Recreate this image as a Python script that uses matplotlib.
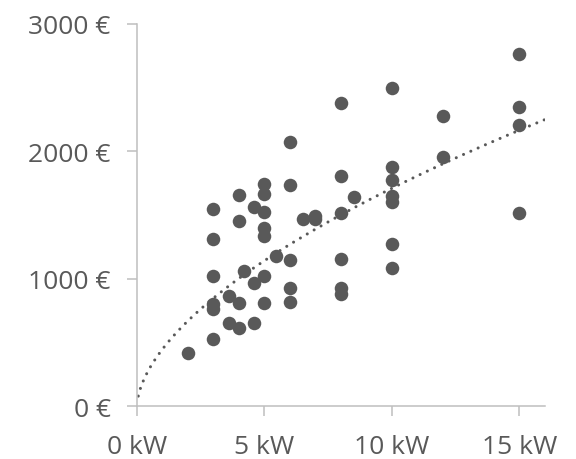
import matplotlib.pyplot as plt
import numpy as np

# power (kW) and price (EUR) of each installation
power_kw = [2,
            3, 3, 3, 3, 3, 3,
            3.6, 3.6,
            4, 4, 4, 4,
            4.2,
            4.6, 4.6, 4.6,
            5, 5, 5, 5, 5, 5, 5,
            5.45,
            6, 6, 6, 6, 6,
            6.5,
            7, 7,
            8, 8, 8, 8, 8, 8,
            8.5,
            10, 10, 10, 10, 10, 10, 10,
            12, 12,
            15, 15, 15, 15]
price_eur = [415,
             1545, 1310, 1020, 800, 760, 525,
             860, 650,
             1655, 1450, 810, 610,
             1060,
             1565, 965, 655,
             1745, 1665, 1520, 1395, 1335, 1020, 810,
             1180,
             2070, 1735, 1145, 930, 820,
             1470,
             1470, 1490,
             2380, 1810, 1515, 1155, 930, 880,
             1640,
             2495, 1880, 1775, 1650, 1605, 1275, 1080,
             2275, 1955,
             2765, 2350, 2205, 1515]

x_ticks = [0, 5, 10, 15]
x_labels = ["0 kW", "5 kW", "10 kW", "15 kW"]
y_ticks = [0, 1000, 2000, 3000]
y_labels = ["0 €", "1000 €", "2000 €", "3000 €"]

grey = "#595959"
axis_grey = "#bfbfbf"

plt.rcParams["font.family"] = ["Open Sans", "DejaVu Sans"]

# power trendline, fitted on log-log
px = np.array(power_kw, dtype=float)
py = np.array(price_eur, dtype=float)
b, log_a = np.polyfit(np.log(px), np.log(py), 1)
xt = np.linspace(0.05, 16, 300)
yt = np.exp(log_a) * xt ** b

fig = plt.figure(figsize=(5.76, 4.6), dpi=100)
ax = fig.add_axes([0.2378, 0.1152, 0.7082, 0.8305])

ax.scatter(px, py, s=95, color=grey, linewidths=0, zorder=3)
ax.plot(xt, yt, color=grey, lw=2.2, linestyle=(0, (0.01, 2.6)),
        dash_capstyle="round", zorder=2)

ax.set_xlim(0, 16)
ax.set_ylim(0, 3000)
ax.set_xticks(x_ticks)
ax.set_xticklabels(x_labels)
ax.set_yticks(y_ticks)
ax.set_yticklabels(y_labels)

for side in ["top", "right"]:
    ax.spines[side].set_visible(False)
for side in ["left", "bottom"]:
    ax.spines[side].set_color(axis_grey)
    ax.spines[side].set_linewidth(1.1)
ax.tick_params(axis="both", colors=axis_grey, width=1.1, length=7,
               labelcolor=grey, labelsize=19)
ax.tick_params(axis="y", pad=12)
ax.tick_params(axis="x", pad=13)

fig.savefig("out.png", dpi=100)
